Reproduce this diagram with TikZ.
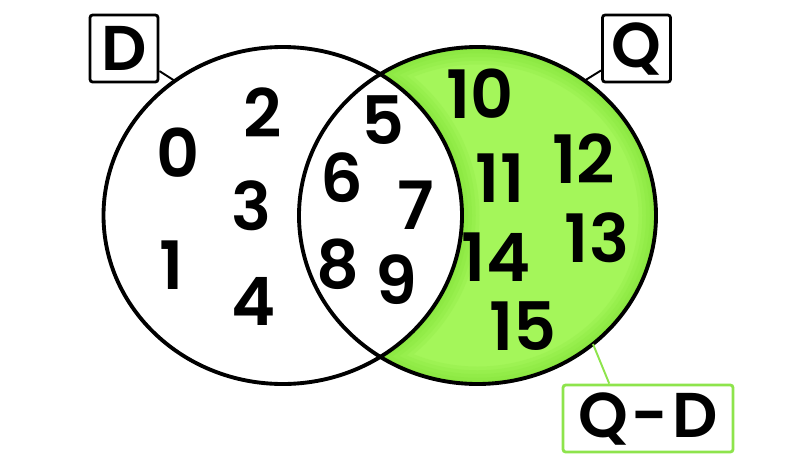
\documentclass[tikz,border=0pt]{standalone}
\usepackage{fontspec}
\setmainfont{Poppins}[BoldFont={* SemiBold}]
\definecolor{lime}{HTML}{A4F65A}
\definecolor{limeglow}{HTML}{74DC2A}
\definecolor{limeframe}{HTML}{8EE44C}
\begin{document}
\begin{tikzpicture}[x=0.02cm, y=-0.02cm]
    \tikzstyle{num} = [font=\fontsize{38}{38}\selectfont\bfseries, inner sep=0pt]
    \tikzstyle{setlabel} = [draw, line width=1.6pt, rounded corners=1.5pt, minimum width=1.36cm, minimum height=1.34cm, inner sep=0pt, font=\fontsize{36}{36}\selectfont\bfseries]
    \tikzstyle{ring} = [line width=2.2pt]
    \tikzstyle{glow} = [limeglow, opacity=0.13]
    \useasboundingbox (0,0) rectangle (800,460);

    % Q without D, shaded darker along its border
    \begin{scope}
      \clip (477.5,215.5) ellipse [x radius=178.5, y radius=168.5];
      \fill[lime] (0,0) rectangle (800,460);
      \draw[glow, line width=0.7cm] (477.5,215.5) ellipse [x radius=178.5, y radius=168.5]
                                    (282.75,215.5) ellipse [x radius=179.25, y radius=168.5];
      \draw[glow, line width=0.55cm] (477.5,215.5) ellipse [x radius=178.5, y radius=168.5]
                                    (282.75,215.5) ellipse [x radius=179.25, y radius=168.5];
      \draw[glow, line width=0.4cm] (477.5,215.5) ellipse [x radius=178.5, y radius=168.5]
                                    (282.75,215.5) ellipse [x radius=179.25, y radius=168.5];
      \draw[glow, line width=0.25cm] (477.5,215.5) ellipse [x radius=178.5, y radius=168.5]
                                    (282.75,215.5) ellipse [x radius=179.25, y radius=168.5];
      \draw[glow, line width=0.12cm] (477.5,215.5) ellipse [x radius=178.5, y radius=168.5]
                                    (282.75,215.5) ellipse [x radius=179.25, y radius=168.5];
    \end{scope}
    \fill[white] (282.75,215.5) ellipse [x radius=179.25, y radius=168.5];

    % the two sets
    \draw[ring] (282.75,215.5) ellipse [x radius=179.25, y radius=168.5];
    \draw[ring] (477.5,215.5) ellipse [x radius=178.5, y radius=168.5];

    % elements
    \node[num] (n0) at (178,153) {0};
    \node[num] (n1) at (172,265) {1};
    \node[num] (n2) at (263,113) {2};
    \node[num] (n3) at (251,206) {3};
    \node[num] (n4) at (254,301) {4};
    \node[num] (n5) at (383,120) {5};
    \node[num] (n6) at (342,178) {6};
    \node[num] (n7) at (416,205) {7};
    \node[num] (n8) at (338,264) {8};
    \node[num] (n9) at (396,280) {9};
    \node[num] (n10) at (480,94) {10};
    \node[num] (n11) at (500,178) {11};
    \node[num] (n12) at (584,159) {12};
    \node[num] (n13) at (597,238) {13};
    \node[num] (n14) at (496,257) {14};
    \node[num] (n15) at (523,326) {15};

    % labels
    \node[setlabel] (lD) at (124,48.5) {D};
    \node[setlabel] (lQ) at (636.5,48.5) {Q};
    \node[setlabel, draw=limeframe, minimum width=3.4cm] (lQD) at (648,418.5) {Q\hspace{0.06em}-\hspace{0.06em}D};
    \coordinate (dTip) at (175,81);
    \coordinate (qTip) at (584,81);
    \coordinate (qdTip) at (593,344);
    \draw[line width=1.1pt] (lD) -- (dTip);
    \draw[line width=1.1pt] (lQ) -- (qTip);
    \draw[line width=1.1pt, limeframe] (lQD.138) -- (qdTip);
\end{tikzpicture}
\end{document}
